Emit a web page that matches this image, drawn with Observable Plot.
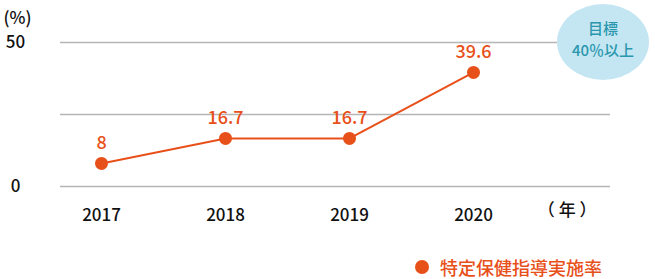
<!DOCTYPE html>
<html><head><meta charset="utf-8">
<script src="https://cdn.jsdelivr.net/npm/d3@7"></script>
<script src="https://cdn.jsdelivr.net/npm/@observablehq/plot@0.6"></script>
<style>
body{margin:0;background:#fff;font-family:"Noto Sans CJK JP","Noto Sans",sans-serif;overflow:hidden;}
#wrap{position:relative;width:655px;height:279px;}
#legend{position:absolute;left:415px;top:256px;display:flex;align-items:center;color:#e8501a;font-size:18px;line-height:22px;height:22px;font-weight:500;white-space:nowrap;}
#legend span.dot{display:inline-block;width:14px;height:14px;border-radius:50%;background:#e8501a;margin-right:11px;}
</style></head>
<body><div id="wrap"><div id="chart"></div><div id="legend"><span class="dot"></span>特定保健指導実施率</div></div>
<script>
const years = ["2017","2018","2019","2020"];
const rates = [8, 16.7, 16.7, 39.6];
const gridValues = [0, 25, 50];
const yTickLabels = [0, 50];
const seriesName = "特定保健指導実施率";
const targetLines = ["目標", "40％以上"];

const data = years.map((y,i)=>({year:y, rate:rates[i]}));
const orange = "#e8501a";
const font = `"Noto Sans CJK JP","Noto Sans",sans-serif`;

const plot = Plot.plot({
  width: 655, height: 250,
  marginLeft: 60, marginRight: 45, marginTop: 42, marginBottom: 64,
  style: {fontFamily: font, background: "transparent"},
  x: {type: "point", domain: years, range: [101, 473], padding: 0, axis: null},
  y: {domain: [0, 50], axis: null},
  marks: [
    Plot.ruleY(gridValues, {stroke: "#b5b5b5", strokeWidth: 1.5}),
    Plot.text(yTickLabels, {y: d=>d, frameAnchor: "left", dx: -45, text: d=>String(d), fontSize: 17, fontWeight: 500, fill: "#111", textAnchor: "middle"}),
    Plot.text(["(%)"], {frameAnchor: "top-left", dx: -57, dy: -31, text: d=>d, fontSize: 17, fontWeight: 500, fill: "#111", textAnchor: "start"}),
    Plot.text(years, {x: d=>d, y: 0, dy: 29, text: d=>d, fontSize: 17, fill: "#111", fontWeight: 500}),
    Plot.text(["（ 年 ）"], {frameAnchor: "bottom-right", dx: -14, dy: 29, text: d=>d, fontSize: 17, fontWeight: 500, fill: "#111", textAnchor: "end"}),
    Plot.line(data, {x: "year", y: "rate", stroke: orange, strokeWidth: 2}),
    Plot.dot(data, {x: "year", y: "rate", r: 6.5, fill: orange}),
    Plot.text(data, {x: "year", y: "rate", text: d=>String(d.rate), dy: -20, fill: orange, fontSize: 18, fontWeight: 500})
  ]
});
document.getElementById("chart").appendChild(plot);

// target bubble annotation
const svg = d3.select(plot);
const cy = plot.scale("y").apply(50);
const cx = 655 - 52;
const g = svg.append("g");
g.append("ellipse").attr("cx", cx).attr("cy", cy).attr("rx", 46).attr("ry", 38).attr("fill", "#c4e6f3");
targetLines.forEach((t,i)=>{
  g.append("text").attr("x", cx).attr("y", cy - 12 + i*22).attr("text-anchor","middle")
   .attr("dominant-baseline","middle").attr("fill","#2a97ad").attr("font-size",15).attr("font-weight",500).attr("font-family",font).text(t);
});
</script></body></html>
